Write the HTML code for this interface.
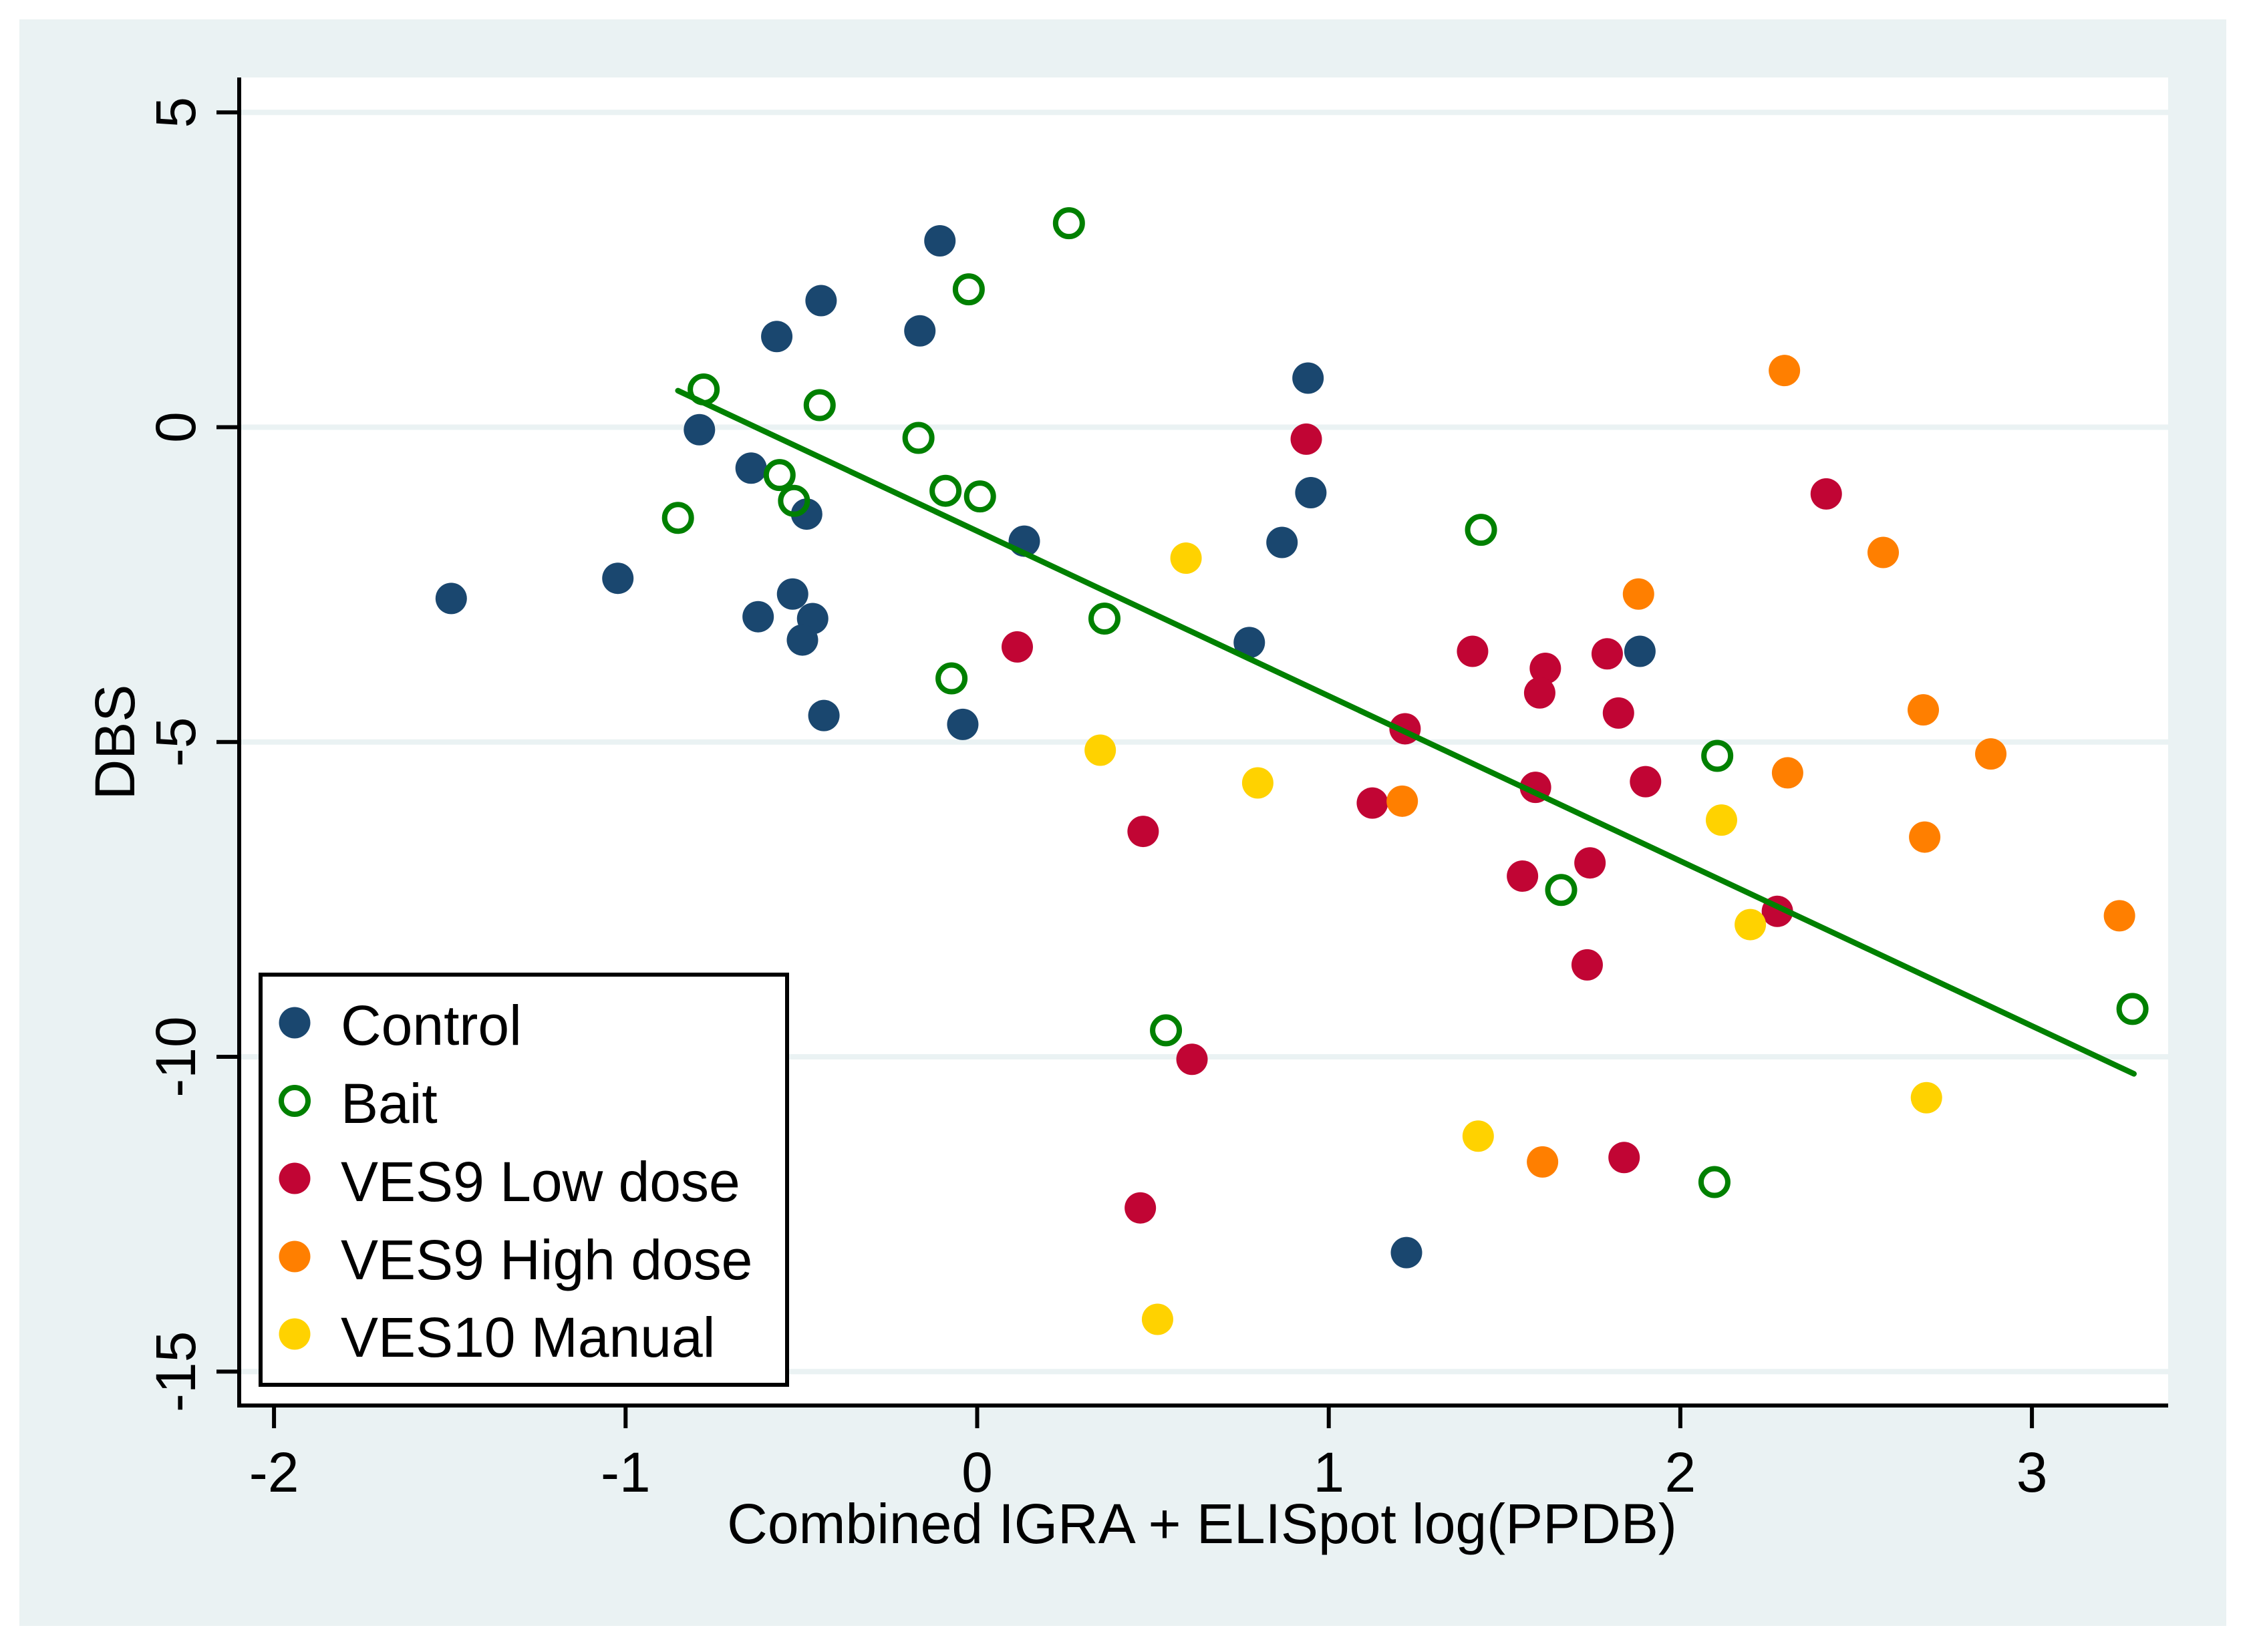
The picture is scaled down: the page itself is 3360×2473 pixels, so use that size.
<!DOCTYPE html>
<html>
<head>
<meta charset="utf-8">
<title>DBS vs Combined IGRA + ELISpot</title>
<style>
html,body{margin:0;padding:0;background:#fff;}
svg{display:block;}
text{font-family:"Liberation Sans",sans-serif;fill:#000;}
</style>
</head>
<body>
<svg id="chart" width="3360" height="2473" viewBox="0 0 3360 2473" xmlns="http://www.w3.org/2000/svg">
<rect x="0" y="0" width="3360" height="2473" fill="#ffffff"/>
<rect x="29" y="29" width="3303" height="2405" fill="#eaf2f3"/>
<rect x="358" y="116" width="2887" height="1988" fill="#ffffff"/>
<g id="grid"></g>
<g id="marks"></g>
<g id="axes"></g>
<text x="201" y="1111" font-size="84" text-anchor="middle" transform="rotate(-90 201 1111)">DBS</text>
<text x="1799" y="2310" font-size="84" text-anchor="middle">Combined IGRA + ELISpot log(PPDB)</text>
<g>
<rect x="390" y="1459" width="788" height="614" fill="#ffffff" stroke="#000" stroke-width="6"/>
<g>
<circle cx="441" cy="1531" r="23.5" fill="#1a476f"/>
<text x="510" y="1564" font-size="84">Control</text>
</g>
<g>
<circle cx="441" cy="1648" r="20" fill="none" stroke="#008000" stroke-width="8"/>
<text x="510" y="1681" font-size="84">Bait</text>
</g>
<g>
<circle cx="441" cy="1764" r="23.5" fill="#c10534"/>
<text x="510" y="1798" font-size="84">VES9 Low dose</text>
</g>
<g>
<circle cx="441" cy="1881" r="23.5" fill="#ff7f00"/>
<text x="510" y="1915" font-size="84">VES9 High dose</text>
</g>
<g>
<circle cx="441" cy="1997" r="23.5" fill="#ffd200"/>
<text x="510" y="2031" font-size="84">VES10 Manual</text>
</g>
</g>
</svg>
<script>
const xTicks = [-2, -1, 0, 1, 2, 3];
const yTicks = [5, 0, -5, -10, -15];

const controlX = [-1.496, -1.022, -0.79, -0.643, -0.623, -0.525, -0.468, -0.497, -0.485, -0.436, -0.57, -0.444, -0.163, -0.106, -0.041, 0.134, 0.774, 0.867, 0.941, 0.949, 1.885, 1.221];
const controlY = [-2.72, -2.40, -0.04, -0.65, -3.01, -2.65, -3.04, -3.38, -1.38, -4.58, 1.44, 2.01, 1.53, 2.96, -4.72, -1.81, -3.42, -1.83, 0.78, -1.04, -3.56, -13.11];
const baitX = [0.261, -0.024, -0.778, -0.448, -0.167, -0.562, -0.521, -0.851, -0.09, 0.008, 0.362, -0.073, 1.433, 2.105, 1.661, 0.537, 2.097, 3.286];
const baitY = [3.24, 2.19, 0.60, 0.35, -0.17, -0.76, -1.17, -1.44, -1.01, -1.10, -3.04, -3.99, -1.63, -5.22, -7.35, -9.58, -11.99, -9.24];
const lowX = [0.936, 2.415, 0.114, 1.409, 1.616, 1.6, 1.792, 1.824, 1.217, 1.901, 1.588, 1.124, 0.472, 1.551, 1.743, 2.276, 1.735, 0.611, 1.84, 0.464];
const lowY = [-0.19, -1.06, -3.49, -3.56, -3.83, -4.22, -3.60, -4.54, -4.79, -5.63, -5.72, -5.97, -6.42, -7.13, -6.92, -7.69, -8.54, -10.04, -11.60, -12.40];
const highX = [2.296, 2.577, 1.881, 2.691, 2.883, 2.305, 1.209, 2.695, 3.249, 1.608];
const highY = [0.90, -1.99, -2.65, -4.49, -5.19, -5.49, -5.94, -6.51, -7.76, -11.67];
const manualX = [0.594, 0.35, 0.798, 2.117, 2.199, 2.7, 1.425, 0.513];
const manualY = [-2.08, -5.13, -5.65, -6.24, -7.90, -10.65, -11.26, -14.17];
const fitX = [-0.851, 3.29];
const fitY = [0.58, -10.27];

const NS = 'http://www.w3.org/2000/svg';
function xScale(v) { return 1462.5 + v * 526.2; }
function yScale(v) { return 639.5 - v * 94.25; }
function mk(tag, parent, attrs) {
  const el = document.createElementNS(NS, tag);
  for (const k in attrs) el.setAttribute(k, attrs[k]);
  parent.appendChild(el);
  return el;
}
const gridG = document.getElementById('grid');
const marksG = document.getElementById('marks');
const axesG = document.getElementById('axes');

yTicks.forEach(function (t) {
  const y = yScale(t);
  const g = mk('line', gridG, { x1: 361, x2: 3245, y1: y, y2: y, stroke: '#eaf2f3', 'stroke-width': 8 });
  
  
  const tick = mk('line', axesG, { x1: 324, x2: 358, y1: y, y2: y, stroke: '#000', 'stroke-width': 6 });
  
  
  const lbl = mk('text', axesG, { x: 292, y: y, 'font-size': 84, 'text-anchor': 'middle', transform: 'rotate(-90 292 ' + y + ')' });
  lbl.textContent = String(t);
  
  
});

xTicks.forEach(function (t) {
  const x = xScale(t);
  const tick = mk('line', axesG, { x1: x, x2: x, y1: 2104, y2: 2138, stroke: '#000', 'stroke-width': 6 });
  
  
  const lbl = mk('text', axesG, { x: x, y: 2233, 'font-size': 84, 'text-anchor': 'middle' });
  lbl.textContent = String(t);
  
  
});

const yAxis = mk('line', axesG, { x1: 358, x2: 358, y1: 116, y2: 2107, stroke: '#000', 'stroke-width': 6 });


const xAxis = mk('line', axesG, { x1: 355, x2: 3245, y1: 2104, y2: 2104, stroke: '#000', 'stroke-width': 6 });



function drawFilled(xs, ys, color, name) {
  xs.forEach(function (v, i) {
    const c = mk('circle', marksG, { cx: xScale(v), cy: yScale(ys[i]), r: 23.5, fill: color });
    
    
  });
}
function drawHollow(xs, ys, color, name) {
  xs.forEach(function (v, i) {
    const c = mk('circle', marksG, { cx: xScale(v), cy: yScale(ys[i]), r: 20, fill: 'none', stroke: color, 'stroke-width': 8 });
    
    
  });
}
drawFilled(controlX, controlY, '#1a476f', 'point-control');
drawHollow(baitX, baitY, '#008000', 'point-bait');
drawFilled(lowX, lowY, '#c10534', 'point-ves9-low');
drawFilled(highX, highY, '#ff7f00', 'point-ves9-high');
drawFilled(manualX, manualY, '#ffd200', 'point-ves10-manual');

const fit = mk('line', marksG, { x1: xScale(fitX[0]), y1: yScale(fitY[0]), x2: xScale(fitX[1]), y2: yScale(fitY[1]), stroke: '#008000', 'stroke-width': 8.5, 'stroke-linecap': 'round' });


</script>
</body>
</html>
